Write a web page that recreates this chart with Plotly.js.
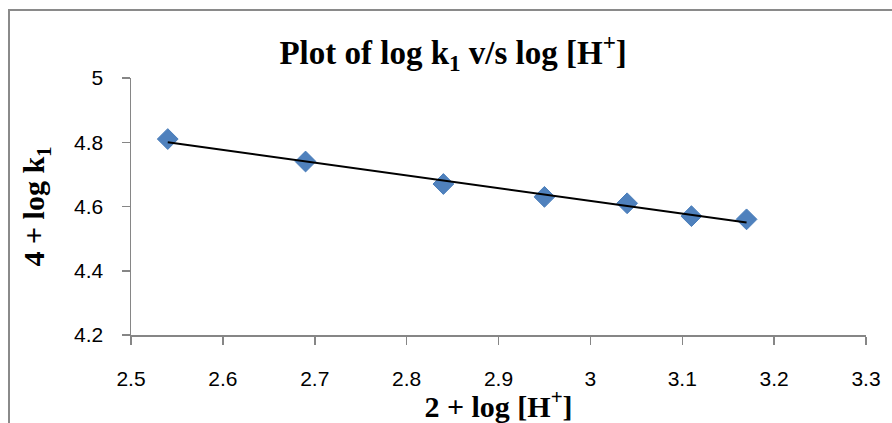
<!DOCTYPE html>
<html>
<head>
<meta charset="utf-8">
<script src="https://cdn.plot.ly/plotly-3.0.1.min.js"></script>
<style>
  html, body { margin: 0; padding: 0; background: #fff; overflow: hidden; }
  #wrap { position: relative; width: 892px; height: 423px; }
  #chart { position: absolute; left: 0; top: 0; width: 892px; height: 423px; }
  #frame { position: absolute; left: 8px; top: 9px; width: 1000px; height: 1000px;
           border: 2px solid #8a8a8a; pointer-events: none; }
</style>
</head>
<body>
<div id="wrap">
  <div id="chart"></div>
  <div id="frame"></div>
</div>
<script>
// Data
const xValues = [2.54, 2.69, 2.84, 2.95, 3.04, 3.11, 3.17];
const yValues = [4.81, 4.74, 4.67, 4.63, 4.61, 4.57, 4.56];
// Linear trendline endpoints
const trendX = [2.54, 3.17];
const trendY = [4.80, 4.55];

const titleText = "<b>Plot of log k<sub>1</sub> v/s log [H<sup>+</sup>]</b>";
const xTitleText = "<b>2 + log [H<sup>+</sup>]</b>";
const yTitleText = "<b>4 + log k<sub>1</sub></b>";

const tickFont = { family: "Liberation Sans, Arial, sans-serif", size: 21, color: "#000" };
const serif = "Liberation Serif, Times New Roman, serif";

const traces = [
  {
    x: xValues, y: yValues, type: "scatter", mode: "markers",
    marker: { symbol: "diamond", size: 16, color: "#4F81BD", line: { color: "#4A7EBB", width: 1 } },
    hoverinfo: "skip"
  },
  {
    x: trendX, y: trendY, type: "scatter", mode: "lines",
    line: { color: "#000", width: 2 },
    hoverinfo: "skip"
  }
];

const layout = {
  width: 892, height: 423,
  margin: { l: 131, r: 26, t: 78, b: 88, pad: 0 },
  paper_bgcolor: "rgba(0,0,0,0)",
  plot_bgcolor: "rgba(0,0,0,0)",
  showlegend: false,
  title: {
    text: titleText,
    font: { family: serif, size: 33, color: "#000" },
    xref: "container", x: 0.508, xanchor: "center",
    yref: "container", y: 0.877, yanchor: "middle"
  },
  xaxis: {
    range: [2.5, 3.3], dtick: 0.1, tick0: 2.5,
    showgrid: false, zeroline: false,
    showline: true, linecolor: "#868686", linewidth: 1.5,
    ticks: "outside", ticklen: 8, tickcolor: "#868686", tickwidth: 1.5,
    tickfont: tickFont, ticklabelstandoff: 16,
    automargin: false,
    title: { text: xTitleText, font: { family: serif, size: 30, color: "#000" }, standoff: 2 }
  },
  yaxis: {
    range: [4.2, 5], dtick: 0.2, tick0: 4.2,
    showgrid: false, zeroline: false,
    showline: true, linecolor: "#868686", linewidth: 1.5,
    ticks: "outside", ticklen: 8, tickcolor: "#868686", tickwidth: 1.5,
    tickfont: tickFont, ticklabelstandoff: 14,
    automargin: false,
    title: { text: yTitleText, font: { family: serif, size: 30, color: "#000" }, standoff: 20 }
  }
};

Plotly.newPlot("chart", traces, layout, { staticPlot: true, displayModeBar: false });
</script>
</body>
</html>
